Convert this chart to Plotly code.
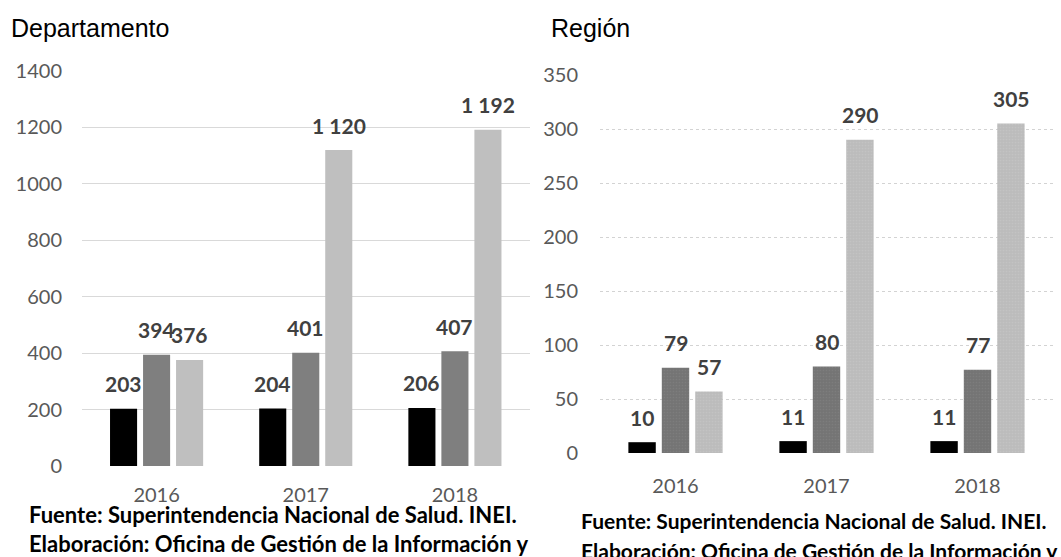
import plotly.graph_objects as go

years = ["2016", "2017", "2018"]
dep_s1 = [203, 204, 206]
dep_s2 = [394, 401, 407]
dep_s3 = [376, 1120, 1192]
reg_s1 = [10, 11, 11]
reg_s2 = [79, 80, 77]
reg_s3 = [57, 290, 305]
dep_ticks = [0, 200, 400, 600, 800, 1000, 1200, 1400]
reg_ticks = [0, 50, 100, 150, 200, 250, 300, 350]

dep_colors = ["#000000", "#7f7f7f", "#bfbfbf"]
reg_colors = ["#000000", "#747474", "#bcbcbc"]
reg_dots = [None, "#868686", "#c9c9c9"]
W, H = 1061, 557

def fmt(v):
    return f"{v:,}".replace(",", " ")

fig = go.Figure()
panels = [
    ("x", "y", [dep_s1, dep_s2, dep_s3], 33, dep_colors, [None, None, None]),
    ("x2", "y2", [reg_s1, reg_s2, reg_s3], 33.5, reg_colors, reg_dots),
]
for xa, ya, series, slot, cols, dots in panels:
    for i, vals in enumerate(series):
        marker = dict(color=cols[i], line=dict(width=0))
        if dots[i]:
            marker["pattern"] = dict(shape=".", size=3, solidity=0.25, fgcolor=dots[i],
                                     bgcolor=cols[i], fillmode="overlay")
        fig.add_trace(go.Bar(x=years, y=vals, xaxis=xa, yaxis=ya, marker=marker,
                             showlegend=False, hoverinfo="skip"))
        for k, v in enumerate(vals):
            fig.add_annotation(x=k, y=v, xref=xa, yref=ya, text=fmt(v),
                               showarrow=False, xshift=(i - 1) * slot, yshift=25,
                               font=dict(family="Lato", size=21, color="#404040", weight="bold"))

axis_font = dict(family="Lato", size=20, color="#595959")
common_x = dict(type="category", tickfont=axis_font, showgrid=False, ticks="",
                range=[-0.5, len(years) - 0.5], categoryorder="array", categoryarray=years,
                automargin=False, showline=False, zeroline=False)
common_y = dict(tickfont=axis_font, gridwidth=1, zeroline=False,
                ticks="", automargin=False, showline=False)
fig.update_layout(
    template="none",
    width=W, height=H, margin=dict(l=0, r=0, t=0, b=0, autoexpand=False),
    paper_bgcolor="white", plot_bgcolor="white",
    barmode="group", bargap=0.336, bargroupgap=0.18,
    xaxis=dict(domain=[82 / W, 529.5 / W], anchor="y", ticklabelstandoff=15, **common_x),
    yaxis=dict(domain=[(H - 466) / H, (H - 71) / H], range=[0, 1400], tickvals=dep_ticks,
               gridcolor="#d9d9d9", ticklabelstandoff=19, anchor="x", **common_y),
    xaxis2=dict(domain=[600 / W, 1053 / W], anchor="y2", ticklabelstandoff=19, **common_x),
    yaxis2=dict(domain=[(H - 453) / H, (H - 75) / H], range=[0, 350], tickvals=reg_ticks,
                gridcolor="#d3d3d3", griddash="dot", ticklabelstandoff=21, anchor="x2",
                **common_y),
)

title_font = dict(family="Liberation Sans", size=25, color="#000000")
fig.add_annotation(x=9 / W, y=1 - 28 / H, xref="paper", yref="paper", text="Departamento",
                   showarrow=False, xanchor="left", yanchor="middle", font=title_font)
fig.add_annotation(x=549 / W, y=1 - 28 / H, xref="paper", yref="paper", text="Región",
                   showarrow=False, xanchor="left", yanchor="middle", font=title_font)

footers = [(27, 514, 543, 22), (579, 520, 550, 21)]
for x0, y1, y2, fs in footers:
    foot_font = dict(family="Lato", size=fs, color="#000000", weight="bold")
    fig.add_annotation(x=x0 / W, y=1 - y1 / H, xref="paper", yref="paper",
                       text="Fuente: Superintendencia Nacional de Salud. INEI.",
                       showarrow=False, xanchor="left", yanchor="middle", font=foot_font)
    fig.add_annotation(x=x0 / W, y=1 - y2 / H, xref="paper", yref="paper",
                       text="Elaboración: Oficina de Gestión de la Información y",
                       showarrow=False, xanchor="left", yanchor="middle", font=foot_font)

fig.write_html("out.html", config={"displayModeBar": False},
               post_script="document.body.style.margin='0';")
